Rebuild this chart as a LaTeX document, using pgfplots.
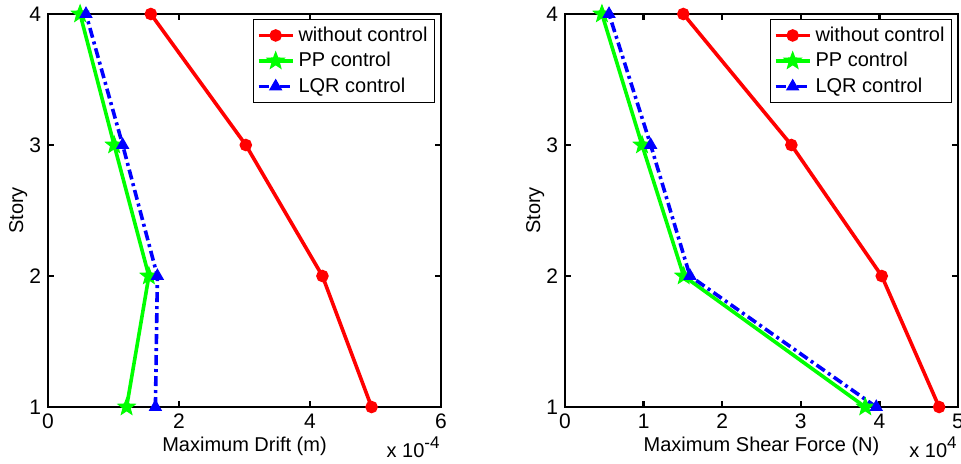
\documentclass[border=0pt]{standalone}
\usepackage{fontspec}
\setmainfont{Liberation Sans}
\usepackage{pgfplots}
\pgfplotsset{compat=1.18}
\usetikzlibrary{plotmarks}
\definecolor{mred}{RGB}{255,0,0}
\definecolor{mgreen}{RGB}{0,255,0}
\definecolor{mblue}{RGB}{0,0,255}
\newcommand{\sups}[1]{\raisebox{4.2pt}{\fontsize{8.5}{10}\selectfont #1}}
\pgfdeclareplotmark{pentagram}{%
  \pgfpathmoveto{\pgfpointpolar{90}{\pgfplotmarksize}}%
  \pgfpathlineto{\pgfpointpolar{126}{0.42\pgfplotmarksize}}%
  \pgfpathlineto{\pgfpointpolar{162}{\pgfplotmarksize}}%
  \pgfpathlineto{\pgfpointpolar{198}{0.42\pgfplotmarksize}}%
  \pgfpathlineto{\pgfpointpolar{234}{\pgfplotmarksize}}%
  \pgfpathlineto{\pgfpointpolar{270}{0.42\pgfplotmarksize}}%
  \pgfpathlineto{\pgfpointpolar{306}{\pgfplotmarksize}}%
  \pgfpathlineto{\pgfpointpolar{342}{0.42\pgfplotmarksize}}%
  \pgfpathlineto{\pgfpointpolar{18}{\pgfplotmarksize}}%
  \pgfpathlineto{\pgfpointpolar{54}{0.42\pgfplotmarksize}}%
  \pgfpathclose
  \pgfusepathqfillstroke}
\pgfplotsset{
  mystyle/.style={
    scale only axis, width=196.5pt, height=196.5pt,
    ymin=1, ymax=4, ytick={1,2,3,4}, xmin=0,
    tick align=inside, major tick length=3pt,
    axis line style={line width=1.4pt},
    every tick/.style={black, line width=1.2pt},
    /pgf/number format/assume math mode=true,
    tick label style={font=\fontsize{10.5}{12}\selectfont},
    xticklabel style={anchor=base, yshift=-10.5pt},
    label style={font=\fontsize{10}{12}\selectfont},
    ylabel=Story,
    ylabel style={at={(axis description cs:-0.076,0.5)}, anchor=center},
    xlabel style={at={(axis description cs:0.5,-0.112)}, anchor=base},
    clip=false,
    legend cell align=left,
    legend style={at={(rel axis cs:0.985,0.987)}, anchor=north east,
      draw=black, line width=0.6pt, font=\fontsize{10}{11}\selectfont,
      inner sep=1.5pt, row sep=0pt},
  },
  wo/.style={color=mred, line width=1.8pt, mark=*, mark size=2.2pt, mark options={solid, fill=mred}},
  pp/.style={color=mgreen, line width=1.8pt, mark=pentagram, mark size=4.5pt, mark options={solid, fill=mgreen, line width=0.5pt}},
  lqr/.style={color=mblue, line width=1.8pt, dash pattern=on 5pt off 2pt on 1.5pt off 2pt, mark=triangle*, mark size=3.4pt, mark options={solid, fill=mblue, line width=0.5pt}},
}
\begin{document}
\begin{tikzpicture}
\path[use as bounding box] (-24pt,-28pt) rectangle (456.5pt,203.5pt);
\begin{axis}[mystyle, xmax=6, xtick={0,2,4,6}, xlabel={Maximum Drift (m)}]
\addplot[wo] coordinates {(4.94,1) (4.19,2) (3.02,3) (1.57,4)};
\addlegendentry{without control}
\addplot[pp] coordinates {(1.20,1) (1.54,2) (1.01,3) (0.49,4)};
\addlegendentry{PP control}
\addplot[lqr] coordinates {(1.64,1) (1.67,2) (1.14,3) (0.58,4)};
\addlegendentry{LQR control}
\node[anchor=base east, inner sep=0pt, font=\fontsize{10}{12}\selectfont] at ([xshift=-0.5pt,yshift=-25pt]rel axis cs:1,0) {x 10\sups{-4}};
\end{axis}
\begin{axis}[mystyle, at={(258.5pt,0pt)}, xmax=5, xtick={0,1,2,3,4,5}, xlabel={Maximum Shear Force (N)}]
\addplot[wo] coordinates {(4.76,1) (4.03,2) (2.88,3) (1.505,4)};
\addlegendentry{without control}
\addplot[pp] coordinates {(3.82,1) (1.51,2) (0.98,3) (0.47,4)};
\addlegendentry{PP control}
\addplot[lqr] coordinates {(3.96,1) (1.59,2) (1.09,3) (0.56,4)};
\addlegendentry{LQR control}
\node[anchor=base east, inner sep=0pt, font=\fontsize{10}{12}\selectfont] at ([xshift=-0.5pt,yshift=-25pt]rel axis cs:1,0) {x 10\sups{4}};
\end{axis}
\end{tikzpicture}
\end{document}
